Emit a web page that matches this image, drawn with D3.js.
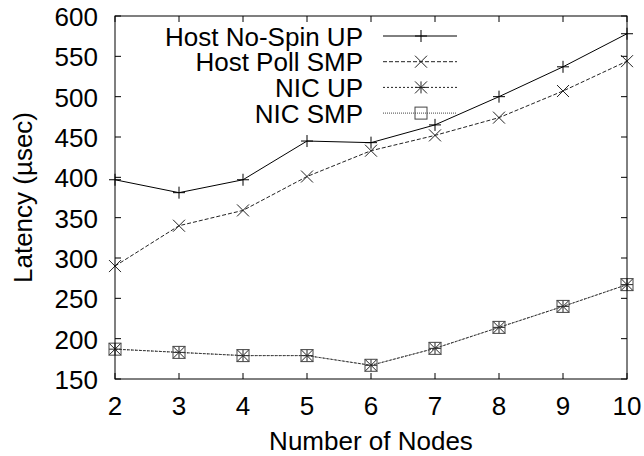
<!DOCTYPE html>
<html>
<head>
<meta charset="utf-8">
<script src="https://cdn.jsdelivr.net/npm/d3@7"></script>
<style>
  body { margin: 0; background: #fff; }
  svg { display: block; font-family: "Liberation Sans", Arial, sans-serif; }
</style>
</head>
<body>
<div id="chart"></div>
<script>
// Dati
const nodes = [2, 3, 4, 5, 6, 7, 8, 9, 10];
const hostNoSpinUP = [397, 381, 397, 445, 443, 465, 500, 537, 578];
const hostPollSMP = [290, 340, 359, 401, 433, 452, 474, 507, 544];
const nicUP = [187, 183, 179, 179, 167, 188, 214, 240, 267];
const nicSMP = [187, 183, 179, 179, 167, 188, 214, 240, 267];
const yTicks = [150, 200, 250, 300, 350, 400, 450, 500, 550, 600];

const series = [
  { name: 'Host No-Spin UP', values: hostNoSpinUP, dash: null, marker: 'plus', color: '#000' },
  { name: 'Host Poll SMP', values: hostPollSMP, dash: '4,2', marker: 'cross', color: '#222' },
  { name: 'NIC UP', values: nicUP, dash: '2,2', marker: 'star', color: '#222' },
  { name: 'NIC SMP', values: nicSMP, dash: '1,1', marker: 'box', color: '#444' }
];

const W = 644, H = 456;
const margin = { top: 16, right: 17, bottom: 77, left: 115 };
const width = W - margin.left - margin.right;
const height = H - margin.top - margin.bottom;
const fs = '26px';

const svg = d3.select('#chart').append('svg')
  .attr('width', W)
  .attr('height', H);

const g = svg.append('g')
  .attr('transform', `translate(${margin.left},${margin.top})`);

// Scale
const x = d3.scaleLinear().domain([2, 10]).range([0, width]);
const y = d3.scaleLinear().domain([150, 600]).range([height, 0]);

// Tick interni su tutti e quattro i lati (stile gnuplot)
const tickLen = 6;
const ticks = g.append('g').attr('stroke', '#000').attr('stroke-width', 1);
nodes.forEach(n => {
  ticks.append('line').attr('x1', x(n)).attr('x2', x(n)).attr('y1', height).attr('y2', height - tickLen);
  ticks.append('line').attr('x1', x(n)).attr('x2', x(n)).attr('y1', 0).attr('y2', tickLen);
});
yTicks.forEach(t => {
  ticks.append('line').attr('x1', 0).attr('x2', tickLen).attr('y1', y(t)).attr('y2', y(t));
  ticks.append('line').attr('x1', width).attr('x2', width - tickLen).attr('y1', y(t)).attr('y2', y(t));
});

// Etichette assi
g.selectAll('.ylab')
  .data(yTicks)
  .enter()
  .append('text')
  .attr('x', -17)
  .attr('y', d => y(d) + 10)
  .attr('text-anchor', 'end')
  .attr('font-size', fs)
  .text(d => d);

g.selectAll('.xlab')
  .data(nodes)
  .enter()
  .append('text')
  .attr('x', d => x(d))
  .attr('y', height + 36)
  .attr('text-anchor', 'middle')
  .attr('font-size', fs)
  .text(d => d);

g.append('text')
  .attr('x', width / 2)
  .attr('y', height + 71)
  .attr('text-anchor', 'middle')
  .attr('font-size', fs)
  .text('Number of Nodes');

svg.append('text')
  .attr('transform', `translate(32,${margin.top + height / 2}) rotate(-90)`)
  .attr('text-anchor', 'middle')
  .attr('font-size', fs)
  .text('Latency (µsec)');

// Marcatori
function drawMarker(sel, type, cx, cy, color) {
  const s = 6;
  const m = sel.append('g').attr('stroke', color).attr('stroke-width', 1).attr('fill', 'none');
  const plus = () => {
    m.append('line').attr('x1', cx - s).attr('x2', cx + s).attr('y1', cy).attr('y2', cy);
    m.append('line').attr('x1', cx).attr('x2', cx).attr('y1', cy - s).attr('y2', cy + s);
  };
  const cross = () => {
    m.append('line').attr('x1', cx - s).attr('x2', cx + s).attr('y1', cy - s).attr('y2', cy + s);
    m.append('line').attr('x1', cx - s).attr('x2', cx + s).attr('y1', cy + s).attr('y2', cy - s);
  };
  if (type === 'plus') plus();
  if (type === 'cross') cross();
  if (type === 'star') { plus(); cross(); }
  if (type === 'box') {
    m.append('rect').attr('x', cx - s).attr('y', cy - s).attr('width', 2 * s).attr('height', 2 * s);
  }
}

const line = d3.line()
  .x((d, i) => x(nodes[i]))
  .y(d => y(d));

series.forEach(s => {
  g.append('path')
    .datum(s.values)
    .attr('fill', 'none')
    .attr('stroke', s.color)
    .attr('stroke-width', 1)
    .attr('stroke-dasharray', s.dash)
    .attr('d', line);
  s.values.forEach((v, i) => drawMarker(g, s.marker, x(nodes[i]), y(v), s.color));
});

// Legenda
const legX = 363 - margin.left;
series.forEach((s, i) => {
  const ly = 36 - margin.top + i * 25.7;
  g.append('text')
    .attr('x', legX)
    .attr('y', ly + 9.5)
    .attr('text-anchor', 'end')
    .attr('font-size', fs)
    .text(s.name);
  g.append('line')
    .attr('x1', legX + 20)
    .attr('x2', legX + 94)
    .attr('y1', ly)
    .attr('y2', ly)
    .attr('stroke', s.color)
    .attr('stroke-width', 1)
    .attr('stroke-dasharray', s.dash);
  drawMarker(g, s.marker, legX + 58, ly, s.color);
});

// Bordo
g.append('rect')
  .attr('width', width)
  .attr('height', height)
  .attr('fill', 'none')
  .attr('stroke', '#000')
  .attr('stroke-width', 1);
</script>
</body>
</html>
